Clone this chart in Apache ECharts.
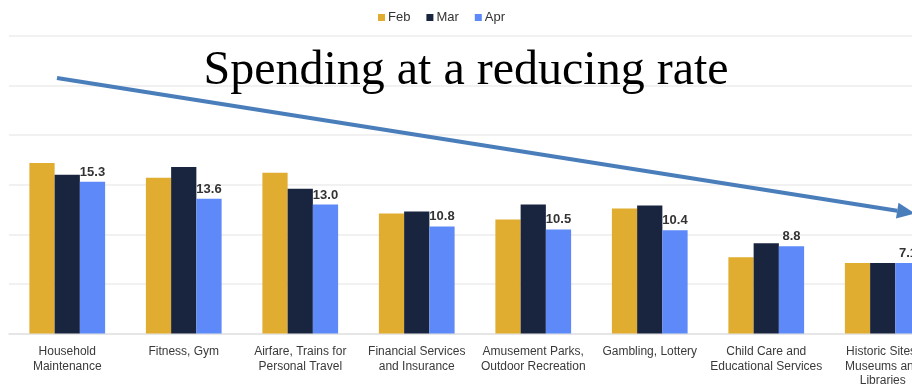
<!DOCTYPE html>
<html>
<head>
<meta charset="utf-8">
<script src="https://cdn.jsdelivr.net/npm/echarts@6/dist/echarts.min.js"></script>
<style>
  html, body { margin: 0; padding: 0; background: #fff; overflow: hidden; width: 912px; height: 388px; }
  #chart { width: 950px; height: 388px; }
</style>
</head>
<body>
<div id="chart"></div>
<script>
// Spending categories (year-over-year rate), Feb–Apr
const categories = [
  'Household\nMaintenance',
  'Fitness, Gym',
  'Airfare, Trains for\nPersonal Travel',
  'Financial Services\nand Insurance',
  'Amusement Parks,\nOutdoor Recreation',
  'Gambling, Lottery',
  'Child Care and\nEducational Services',
  'Historic Sites,\nMuseums and\nLibraries'
];
const febValues = [17.2, 15.7, 16.2, 12.1, 11.5, 12.6, 7.7, 7.1];
const marValues = [16.0, 16.8, 14.6, 12.3, 13.0, 12.9, 9.1, 7.1];
const aprValues = [15.3, 13.6, 13.0, 10.8, 10.5, 10.4, 8.8, 7.1];
const seriesNames = ['Feb', 'Mar', 'Apr'];
const titleText = 'Spending at a reducing rate';

const colors = ['#e0ad30', '#19243f', '#5d8af8'];

const chart = echarts.init(document.getElementById('chart'), null, { renderer: 'canvas' });

// Annotation arrow: shaft and head
const arrowStart = [57, 78];
const arrowTip = [915, 213.5];
const dx = arrowTip[0] - arrowStart[0], dy = arrowTip[1] - arrowStart[1];
const len = Math.sqrt(dx * dx + dy * dy);
const ux = dx / len, uy = dy / len;
const headLen = 18, headHalf = 8;
const baseC = [arrowTip[0] - ux * headLen, arrowTip[1] - uy * headLen];
const headPts = [
  arrowTip,
  [baseC[0] - uy * headHalf, baseC[1] + ux * headHalf],
  [baseC[0] + uy * headHalf, baseC[1] - ux * headHalf]
];

chart.setOption({
  animation: false,
  color: colors,
  textStyle: { fontFamily: '"Liberation Sans", Arial, sans-serif' },
  legend: {
    data: seriesNames,
    left: 373,
    top: 6,
    icon: 'rect',
    itemWidth: 7,
    itemHeight: 7,
    itemGap: 16,
    textStyle: { fontSize: 13, color: '#333', padding: [0, 0, 0, -2] }
  },
  grid: { left: 9, right: 9, top: 36, bottom: 52 },
  xAxis: {
    type: 'category',
    data: categories,
    axisTick: { show: false },
    axisLine: { lineStyle: { color: '#e2e2e2', width: 1.5 } },
    axisLabel: {
      interval: 0,
      color: '#3a3a3a',
      fontSize: 12,
      lineHeight: 14.5,
      margin: 11
    }
  },
  yAxis: {
    type: 'value',
    min: 0,
    max: 30,
    interval: 5,
    axisLabel: { show: false },
    axisLine: { show: false },
    axisTick: { show: false },
    splitLine: { lineStyle: { color: '#ececec', width: 1.5 } }
  },
  series: [
    { name: 'Feb', type: 'bar', data: febValues, barGap: '0%', barCategoryGap: '35%' },
    { name: 'Mar', type: 'bar', data: marValues, barGap: '0%', barCategoryGap: '35%' },
    {
      name: 'Apr', type: 'bar', data: aprValues, barGap: '0%', barCategoryGap: '35%',
      label: {
        show: true,
        position: 'top',
        distance: 3,
        color: '#333',
        fontWeight: 'bold',
        fontSize: 13,
        formatter: p => p.value.toFixed(1)
      }
    }
  ],
  graphic: [
    {
      type: 'text',
      x: 466,
      y: 47,
      z: 10,
      style: {
        text: titleText,
        font: '48px "Liberation Serif", "Times New Roman", serif',
        fill: '#000',
        align: 'center',
        verticalAlign: 'top'
      }
    },
    {
      type: 'polyline',
      z: 20,
      shape: { points: [arrowStart, baseC] },
      style: { stroke: '#4a7ebb', lineWidth: 4, fill: null }
    },
    {
      type: 'polygon',
      z: 20,
      shape: { points: headPts },
      style: { fill: '#4a7ebb' }
    }
  ]
});
</script>
</body>
</html>
